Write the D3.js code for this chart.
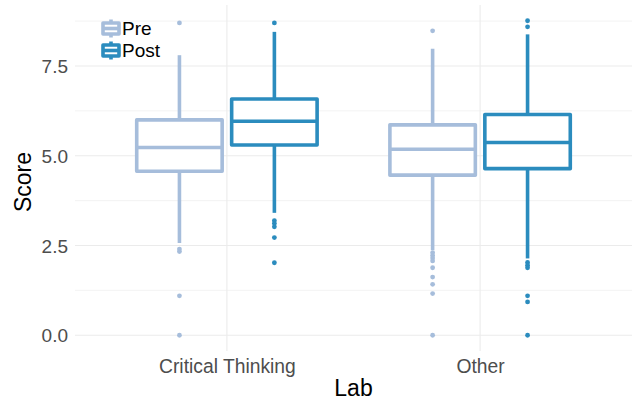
<!DOCTYPE html>
<html>
<head>
<meta charset="utf-8">
<script src="https://cdn.jsdelivr.net/npm/d3@7/dist/d3.min.js"></script>
<style>
  html, body { margin: 0; padding: 0; background: #ffffff; }
  svg { display: block; font-family: "Liberation Sans", Arial, sans-serif; }
</style>
</head>
<body>
<svg id="chart" width="634" height="402"></svg>
<script>
// ---- data ----
const labs = ["Critical Thinking", "Other"];
const phases = ["Pre", "Post"];
const phaseColors = ["#a6bddb", "#2b8cbe"];

const preLower  = [2.57, 2.37];
const preQ1     = [4.57, 4.46];
const preMedian = [5.23, 5.18];
const preQ3     = [6.00, 5.86];
const preUpper  = [7.80, 7.98];
const preOutliers = [
  [8.70, 2.40, 2.33, 1.10, 0.00],
  [8.48, 2.30, 2.22, 2.15, 2.07, 1.88, 1.62, 1.42, 1.16, 0.00]
];

const postLower  = [3.41, 2.14];
const postQ1     = [5.30, 4.64];
const postMedian = [5.96, 5.37];
const postQ3     = [6.58, 6.15];
const postUpper  = [8.45, 8.38];
const postOutliers = [
  [8.70, 3.19, 3.11, 3.02, 2.72, 2.02],
  [8.76, 8.59, 2.03, 1.95, 1.88, 1.10, 0.93, 0.00]
];

const yMajorTicks = [0, 2.5, 5, 7.5];
const yMinorTicks = [1.25, 3.75, 6.25, 8.75];
const xTitle = "Lab";
const yTitle = "Score";

// ---- build box table ----
const stats = {
  Pre:  { lower: preLower,  q1: preQ1,  med: preMedian,  q3: preQ3,  upper: preUpper,  out: preOutliers },
  Post: { lower: postLower, q1: postQ1, med: postMedian, q3: postQ3, upper: postUpper, out: postOutliers }
};
const boxes = [];
labs.forEach((lab, i) => {
  phases.forEach((ph, j) => {
    const s = stats[ph];
    boxes.push({ lab, phase: ph, color: phaseColors[j],
      lower: s.lower[i], q1: s.q1[i], med: s.med[i], q3: s.q3[i], upper: s.upper[i], out: s.out[i] });
  });
});

// ---- layout ----
const svg = d3.select("#chart");
const panel = { left: 75, right: 632, top: 5, bottom: 351 };

const yMin = 0, yMax = 8.76;
const pad = (yMax - yMin) * 0.05;
const y = d3.scaleLinear().domain([yMin - pad, yMax + pad]).range([panel.bottom, panel.top]);
const x = d3.scalePoint().domain(labs).range([panel.left, panel.right]).padding(0.6);
const step = x.step();
const xPhase = d3.scaleBand().domain(phases).range([-0.375 * step, 0.375 * step]);
const boxW = xPhase.bandwidth() * 0.9;
const color = d3.scaleOrdinal().domain(phases).range(phaseColors);

const grid = svg.append("g");
grid.selectAll(".minor").data(yMinorTicks).join("line")
  .attr("x1", panel.left).attr("x2", panel.right)
  .attr("y1", d => y(d)).attr("y2", d => y(d))
  .attr("stroke", "#ebebeb").attr("stroke-width", 0.6);
grid.selectAll(".major").data(yMajorTicks).join("line")
  .attr("x1", panel.left).attr("x2", panel.right)
  .attr("y1", d => y(d)).attr("y2", d => y(d))
  .attr("stroke", "#ebebeb").attr("stroke-width", 1.1);
grid.selectAll(".vmajor").data(labs).join("line")
  .attr("x1", d => x(d)).attr("x2", d => x(d))
  .attr("y1", panel.top).attr("y2", panel.bottom)
  .attr("stroke", "#ebebeb").attr("stroke-width", 1.1);

// ---- axes ----
const yAxis = d3.axisLeft(y).tickValues(yMajorTicks).tickFormat(d3.format(".1f")).tickSize(0).tickPadding(7);
const gy = svg.append("g").attr("transform", `translate(${panel.left},0)`).call(yAxis);
gy.select(".domain").remove();
gy.selectAll("text").attr("fill", "#4d4d4d").style("font-size", "19px")
  .attr("font-family", "Liberation Sans, Arial, sans-serif").attr("dy", "0.35em");

const xAxis = d3.axisBottom(x).tickSize(0).tickPadding(8);
const gx = svg.append("g").attr("transform", `translate(0,${panel.bottom})`).call(xAxis);
gx.select(".domain").remove();
gx.selectAll("text").attr("fill", "#4d4d4d").style("font-size", "19.3px")
  .attr("font-family", "Liberation Sans, Arial, sans-serif");

svg.append("text").attr("x", (panel.left + panel.right) / 2).attr("y", 396)
  .attr("text-anchor", "middle").style("font-size", "23px").attr("fill", "#000").text(xTitle);
svg.append("text").attr("transform", `translate(31,${(panel.top + panel.bottom) / 2 + 4}) rotate(-90)`)
  .attr("text-anchor", "middle").style("font-size", "23px").attr("fill", "#000").text(yTitle);

// ---- boxes ----
const lw = 3.6;
const g = svg.append("g");
const bx = d => x(d.lab) + xPhase(d.phase) + xPhase.bandwidth() / 2;

const bg = g.selectAll(".box").data(boxes).join("g");
bg.append("line")
  .attr("x1", bx).attr("x2", bx)
  .attr("y1", d => y(d.q3)).attr("y2", d => y(d.upper))
  .attr("stroke", d => color(d.phase)).attr("stroke-width", lw);
bg.append("line")
  .attr("x1", bx).attr("x2", bx)
  .attr("y1", d => y(d.q1)).attr("y2", d => y(d.lower))
  .attr("stroke", d => color(d.phase)).attr("stroke-width", lw);
bg.append("rect")
  .attr("x", d => bx(d) - boxW / 2).attr("width", boxW)
  .attr("y", d => y(d.q3)).attr("height", d => y(d.q1) - y(d.q3))
  .attr("fill", "#fff").attr("stroke", d => color(d.phase)).attr("stroke-width", lw)
  .attr("stroke-linejoin", "round");
bg.append("line")
  .attr("x1", d => bx(d) - boxW / 2).attr("x2", d => bx(d) + boxW / 2)
  .attr("y1", d => y(d.med)).attr("y2", d => y(d.med))
  .attr("stroke", d => color(d.phase)).attr("stroke-width", lw);
bg.each(function(d) {
  d3.select(this).selectAll("circle").data(d.out).join("circle")
    .attr("cx", bx(d)).attr("cy", v => y(v)).attr("r", 2.4)
    .attr("fill", color(d.phase));
});

// ---- legend ----
const leg = svg.append("g");
const legY = [28.5, 50.5];
phases.forEach((ph, i) => {
  const cy = legY[i], cx = 111, c = color(ph);
  leg.append("line").attr("x1", cx).attr("x2", cx).attr("y1", cy - 9).attr("y2", cy + 9)
    .attr("stroke", c).attr("stroke-width", lw);
  leg.append("rect").attr("x", cx - 8).attr("y", cy - 5.5).attr("width", 16).attr("height", 11)
    .attr("fill", "#fff").attr("stroke", c).attr("stroke-width", lw).attr("stroke-linejoin", "round");
  leg.append("line").attr("x1", cx - 8).attr("x2", cx + 8).attr("y1", cy).attr("y2", cy)
    .attr("stroke", c).attr("stroke-width", lw);
  leg.append("text").attr("x", 122).attr("y", cy + 6.5).style("font-size", "19px")
    .attr("fill", "#000").text(ph);
});
</script>
</body>
</html>
